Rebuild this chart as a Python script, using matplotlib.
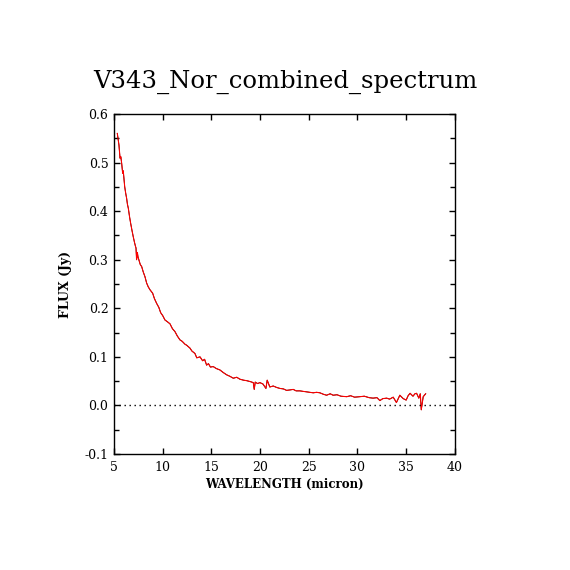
import matplotlib
matplotlib.use('Agg')
import matplotlib.pyplot as plt
from matplotlib.ticker import MultipleLocator

plt.rcParams['axes.unicode_minus'] = False

# spectrum (micron, Jy)
wave = [5.34, 5.51, 5.62, 5.70, 5.79, 5.89, 5.95, 6.10, 6.20, 6.30, 6.38, 6.47,
        6.60, 6.71, 6.85, 6.98, 7.10, 7.20, 7.26, 7.32, 7.40, 7.46, 7.55, 7.70,
        7.84, 8.00, 8.18, 8.35, 8.52, 8.70, 8.97, 9.15, 9.38, 9.60, 9.79, 10.0,
        10.23, 10.50, 10.75, 11.0, 11.26, 11.5, 11.77, 12.0, 12.29, 12.46, 12.80,
        13.0, 13.31, 13.5, 13.83, 14.1, 14.3, 14.51, 14.7, 14.9, 15.19, 15.5,
        15.88, 16.2, 16.57, 16.9, 17.25, 17.6, 17.93, 18.3, 18.62, 19.0, 19.30,
        19.40, 19.5, 19.75, 19.98, 20.3, 20.6, 20.73, 21.0, 21.35, 21.7, 22.04,
        22.4, 22.72, 23.1, 23.4, 23.7, 24.09, 24.4, 24.77, 25.1, 25.46, 25.8,
        26.14, 26.5, 26.83, 27.2, 27.5, 27.9, 28.3, 28.9, 29.3, 29.7, 30.25,
        30.7, 31.2, 31.6, 32.0, 32.3, 32.6, 33.0, 33.3, 33.67, 34.0, 34.35,
        34.7, 35.0, 35.2, 35.4, 35.7, 35.9, 36.07, 36.3, 36.45, 36.55, 36.75,
        37.0]
flux = [0.560, 0.536, 0.509, 0.512, 0.498, 0.478, 0.483, 0.450, 0.437, 0.426,
        0.414, 0.406, 0.388, 0.375, 0.360, 0.347, 0.336, 0.328, 0.324, 0.300,
        0.315, 0.306, 0.300, 0.290, 0.286, 0.275, 0.265, 0.252, 0.244, 0.238,
        0.231, 0.220, 0.210, 0.202, 0.191, 0.185, 0.176, 0.172, 0.168, 0.158,
        0.152, 0.143, 0.135, 0.132, 0.126, 0.124, 0.118, 0.112, 0.107, 0.098,
        0.100, 0.092, 0.095, 0.083, 0.086, 0.079, 0.080, 0.076, 0.073, 0.068,
        0.063, 0.060, 0.056, 0.058, 0.054, 0.052, 0.051, 0.049, 0.047, 0.033,
        0.048, 0.045, 0.047, 0.044, 0.035, 0.052, 0.038, 0.040, 0.037, 0.035,
        0.034, 0.031, 0.032, 0.033, 0.030, 0.030, 0.029, 0.028, 0.027, 0.026,
        0.027, 0.026, 0.023, 0.021, 0.024, 0.021, 0.022, 0.019, 0.018, 0.020,
        0.017, 0.018, 0.019, 0.016, 0.015, 0.016, 0.010, 0.014, 0.015, 0.013,
        0.017, 0.006, 0.021, 0.014, 0.011, 0.020, 0.025, 0.019, 0.024, 0.025,
        0.015, 0.024, -0.009, 0.018, 0.024]

fig = plt.figure(figsize=(5.7, 5.7), dpi=100)
ax = fig.add_axes([0.2, 0.2035, 0.598, 0.5965])

ax.plot(wave, flux, color='black', linewidth=0.6)
ax.plot(wave, flux, color='red', linewidth=0.8)
ax.axhline(0.0, color='black', linewidth=1.0, linestyle=(0, (1, 2.6)))

ax.set_xlim(5, 40)
ax.set_ylim(-0.1, 0.6)
ax.xaxis.set_major_locator(MultipleLocator(5))
ax.yaxis.set_major_locator(MultipleLocator(0.1))
ax.yaxis.set_minor_locator(MultipleLocator(0.05))
ax.tick_params(which='both', direction='in', top=True, right=True,
               width=1.0, labelsize=9, labelfontfamily='DejaVu Serif')
ax.tick_params(which='major', length=4)
ax.tick_params(which='minor', length=3.5)
ax.tick_params(axis='x', pad=5)
ax.tick_params(axis='y', pad=4)
for s in ax.spines.values():
    s.set_linewidth(1.0)

ax.set_xlabel('WAVELENGTH (micron)', family='DejaVu Serif', fontsize=8.5,
              fontweight='bold', labelpad=3)
ax.set_ylabel('FLUX (Jy)', family='DejaVu Serif', fontsize=9,
              fontweight='bold', labelpad=9)
fig.text(0.5, 1 - 82 / 570, 'V343_Nor_combined_spectrum', family='DejaVu Serif',
         fontsize=17.5, ha='center', va='center')

fig.savefig('out.png', dpi=100)
